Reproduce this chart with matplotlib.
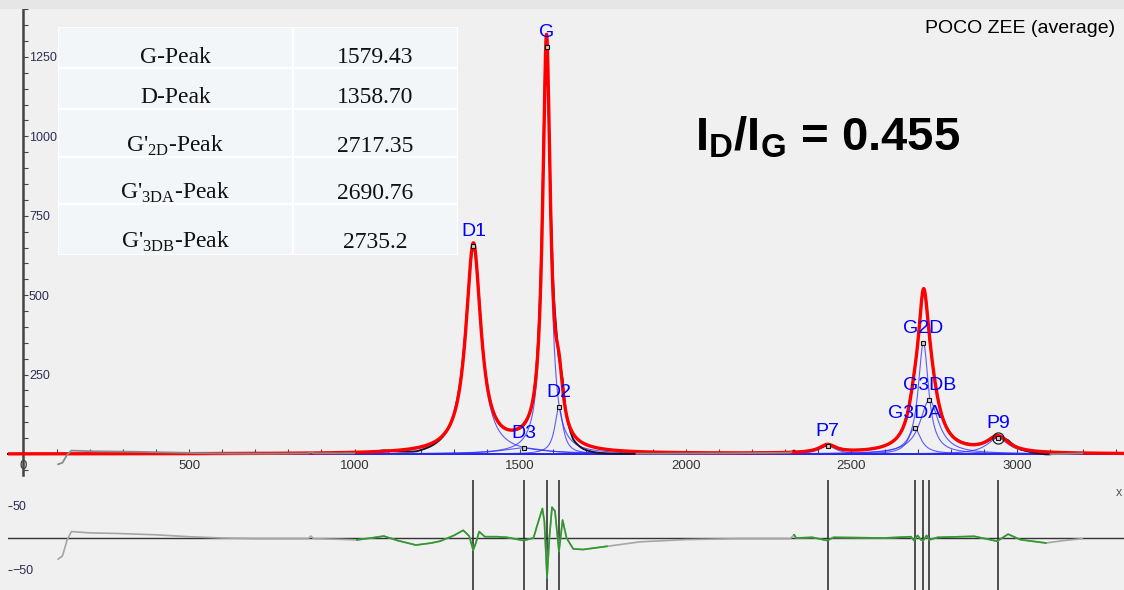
import numpy as np
import matplotlib
matplotlib.use("Agg")
import matplotlib.pyplot as plt
from matplotlib import font_manager
from matplotlib.patches import Rectangle
from matplotlib.ticker import MultipleLocator

# fitted Lorentzian components: name, position (cm-1), height, FWHM
peak_names = ["D1", "D3", "G", "D2", "P7", "G3DA", "G2D", "G3DB", "P9"]
peak_pos = [1358.70, 1510.0, 1579.43, 1617.0, 2428.0, 2690.76, 2717.35, 2735.2, 2942.0]
peak_height = [655, 19, 1280, 148, 25, 82, 350, 170, 50]
peak_fwhm = [55, 160, 28, 30, 60, 45, 38, 68, 80]

# residual (measured - fit) along the spectrum
resid_x = [105, 118, 132, 145, 200, 290, 400, 500, 600, 700, 800, 860, 868, 876,
           950, 1007, 1050, 1088, 1130, 1185, 1230, 1258, 1300, 1328, 1346, 1358,
           1366, 1376, 1393, 1430, 1460, 1510, 1540, 1555, 1567, 1573, 1581, 1588,
           1596, 1605, 1617, 1628, 1640, 1660, 1690, 1762, 1862, 2000, 2164, 2315,
           2327, 2333, 2382, 2427, 2446, 2599, 2680, 2689, 2700, 2710, 2717, 2727,
           2735, 2760, 2871, 2940, 2973, 3010, 3087, 3142, 3197]
resid_y = [-33, -28, -3, 10, 8, 7, 5, 2, 0, -1, -1, -1, 3, -1,
           -2, -3, 0, 3, -4, -11, -8, -5, 4, 12, 3, -19,
           -8, 10, 2, 2, 1, -4, 0, 26, 46, 26, -62, 0,
           48, 42, -21, 28, 0, -17, -18, -13, -6, -2.5, -1, -1,
           5, 0, 1, -4, 1, 0, 2, -4, 4, -3, -4, 4,
           -3, 1, 2.6, -5, 6, -2.6, -7.8, -4, -1]

fit_ranges = [(1000, 1850), (2320, 3100)]

table_names = ["G-Peak", "D-Peak", r"G'$_{\mathrm{2D}}$-Peak",
               r"G'$_{\mathrm{3DA}}$-Peak", r"G'$_{\mathrm{3DB}}$-Peak"]
table_values = ["1579.43", "1358.70", "2717.35", "2690.76", "2735.2"]

ratio_text = r"I$_{\mathbf{D}}$/I$_{\mathbf{G}}$ = 0.455"
sample_name = "POCO ZEE (average)"


def have_font(fam):
    try:
        font_manager.findfont(font_manager.FontProperties(family=fam),
                              fallback_to_default=False)
        return True
    except ValueError:
        return False


narrow = "Liberation Sans Narrow" if have_font("Liberation Sans Narrow") else "Liberation Sans"
plt.rcParams["font.family"] = ["Liberation Sans", "DejaVu Sans"]
plt.rcParams["mathtext.fontset"] = "custom"
plt.rcParams["mathtext.rm"] = "Liberation Serif"
plt.rcParams["mathtext.bf"] = narrow + ":bold"

W, H = 1124, 590


def lorentz(x, c, h, w):
    return h / (1.0 + ((x - c) / (w / 2.0)) ** 2)


def total_fit(x):
    return sum(lorentz(x, c, h, w) for c, h, w in zip(peak_pos, peak_height, peak_fwhm))


def in_fit(x):
    m = np.zeros_like(x, dtype=bool)
    for lo, hi in fit_ranges:
        m |= (x >= lo) & (x <= hi)
    return m


fig = plt.figure(figsize=(W / 100, H / 100), dpi=100, facecolor="#f0f0f0")
fig.patches.append(Rectangle((0, 1 - 9 / H), 1, 9 / H, transform=fig.transFigure,
                             facecolor="#e6e6e6", edgecolor="none"))

# ---- spectrum + fit ----
ax = fig.add_axes([8 / W, 1 - 478 / H, 1116 / W, 469 / H])
ax.patch.set_visible(False)
xmin, xmax = -46.5, 3323
ax.set_xlim(xmin, xmax)
ax.set_ylim(-75.6, 1401)

xs = np.linspace(xmin, xmax, 4000)
for c, h, w in zip(peak_pos, peak_height, peak_fwhm):
    ax.plot(xs, lorentz(xs, c, h, w), color="#2a2aff", lw=0.8, alpha=0.75, zorder=2)

grid = np.arange(resid_x[0], resid_x[-1] + 1, 1.0)
measured = total_fit(grid) + np.interp(grid, resid_x, resid_y)
mask = in_fit(grid)
ax.plot(grid, np.ma.masked_where(~mask, measured), color="#1c1030", lw=1.4, zorder=3)
ax.plot(xs, total_fit(xs), color="#ff0000", lw=2.4, zorder=4)
ax.plot(grid, np.ma.masked_where(mask, measured), color="#8a8a8a", lw=1.3, zorder=5)

ax.plot(peak_pos, peak_height, "s", ms=3, mfc="#d0d0d0", mec="#111111", mew=0.8, zorder=6)
ax.plot(peak_pos[-1], peak_height[-1], "o", ms=8, mfc="none", mec="#222222", mew=0.9, zorder=6)
for name, c, h in zip(peak_names, peak_pos, peak_height):
    ax.annotate(name, (c, h), xytext=(0, 10.5), textcoords="offset points",
                ha="center", va="center", color="#0000ff", fontsize=14, zorder=7)

for side in ("top", "right"):
    ax.spines[side].set_visible(False)
ax.spines["left"].set_position(("data", 0))
ax.spines["bottom"].set_position(("data", 0))
ax.spines["left"].set_bounds(-66, 1401)
ax.spines["left"].set_color("#444444")
ax.spines["left"].set_linewidth(1.8)
ax.spines["bottom"].set_color("#000000")
ax.spines["bottom"].set_linewidth(1.4)
ax.spines["bottom"].set_zorder(1)

ax.xaxis.set_major_locator(MultipleLocator(500))
ax.xaxis.set_minor_locator(MultipleLocator(100))
ax.tick_params(axis="x", which="both", direction="in", length=3.5, width=0.8,
               color="#444444", labelsize=9.5, labelcolor="#333333", pad=4)
ax.set_yticks([250, 500, 750, 1000, 1250])
ax.yaxis.set_minor_locator(MultipleLocator(50))
ax.tick_params(axis="y", which="both", direction="in", length=3.5, width=0.8,
               color="#444444", labelsize=9, labelcolor="#2d2d55", pad=-4)
for lbl in ax.get_yticklabels():
    lbl.set_horizontalalignment("left")

# ---- residual panel ----
ax2 = fig.add_axes([8 / W, 0, 1116 / W, 110 / H])
ax2.patch.set_visible(False)
ax2.set_xlim(xmin, xmax)
ax2.set_ylim(-81.25, 90.6)
ax2.axhline(0, color="#333333", lw=1.0, zorder=1)
ax2.vlines(peak_pos, -81.25, 90.6, color="#222222", lw=1.1, zorder=2)
rx = np.array(resid_x, dtype=float)
ry = np.array(resid_y, dtype=float)
ax2.plot(rx, ry, color="#a5a5a5", lw=1.2, zorder=3)
rmask = in_fit(rx)
ax2.plot(rx, np.ma.masked_where(~rmask, ry), color="#2e9a2e", lw=1.2, zorder=4)
for side in ("top", "right", "bottom", "left"):
    ax2.spines[side].set_visible(False)
ax2.set_xticks([])
ax2.set_yticks([50, -50])
ax2.tick_params(axis="y", direction="in", length=3, width=0.8, color="#444444",
                labelsize=9, labelcolor="#2d2d55", pad=-3.5)
for lbl in ax2.get_yticklabels():
    lbl.set_horizontalalignment("left")

# ---- peak position table ----
tab = fig.add_axes([58 / W, 1 - 255 / H, 400 / W, 228 / H])
tab.set_xlim(0, 400)
tab.set_ylim(255, 27)
tab.axis("off")
row_edges = [27, 68, 109, 157, 204, 255]
baselines = [63, 103, 152, 199, 248]
split = 235
for i in range(len(table_names)):
    top, bot = row_edges[i], row_edges[i + 1]
    for x0, x1 in ((0, split), (split, 400)):
        tab.add_patch(Rectangle((x0, top), x1 - x0, bot - top, facecolor="#f2f6f9",
                                edgecolor="white", lw=1.6))
    tab.text(split / 2, baselines[i], table_names[i], ha="center", va="baseline",
             family="Liberation Serif", fontsize=17, color="#111111")
    tab.text((split + 400) / 2, baselines[i], table_values[i], ha="center", va="baseline",
             family="Liberation Serif", fontsize=17, color="#111111")

fig.text(695 / W, 1 - 150 / H, ratio_text, family=narrow, fontweight="bold",
         fontsize=34, va="baseline", ha="left", color="black")
fig.text(925 / W, 1 - 33 / H, sample_name, fontsize=14, va="baseline", ha="left")
fig.text(1116 / W, 1 - 493 / H, "x", fontsize=9, va="center", ha="left", color="#555555")

fig.savefig("out.png", dpi=100, facecolor=fig.get_facecolor())
